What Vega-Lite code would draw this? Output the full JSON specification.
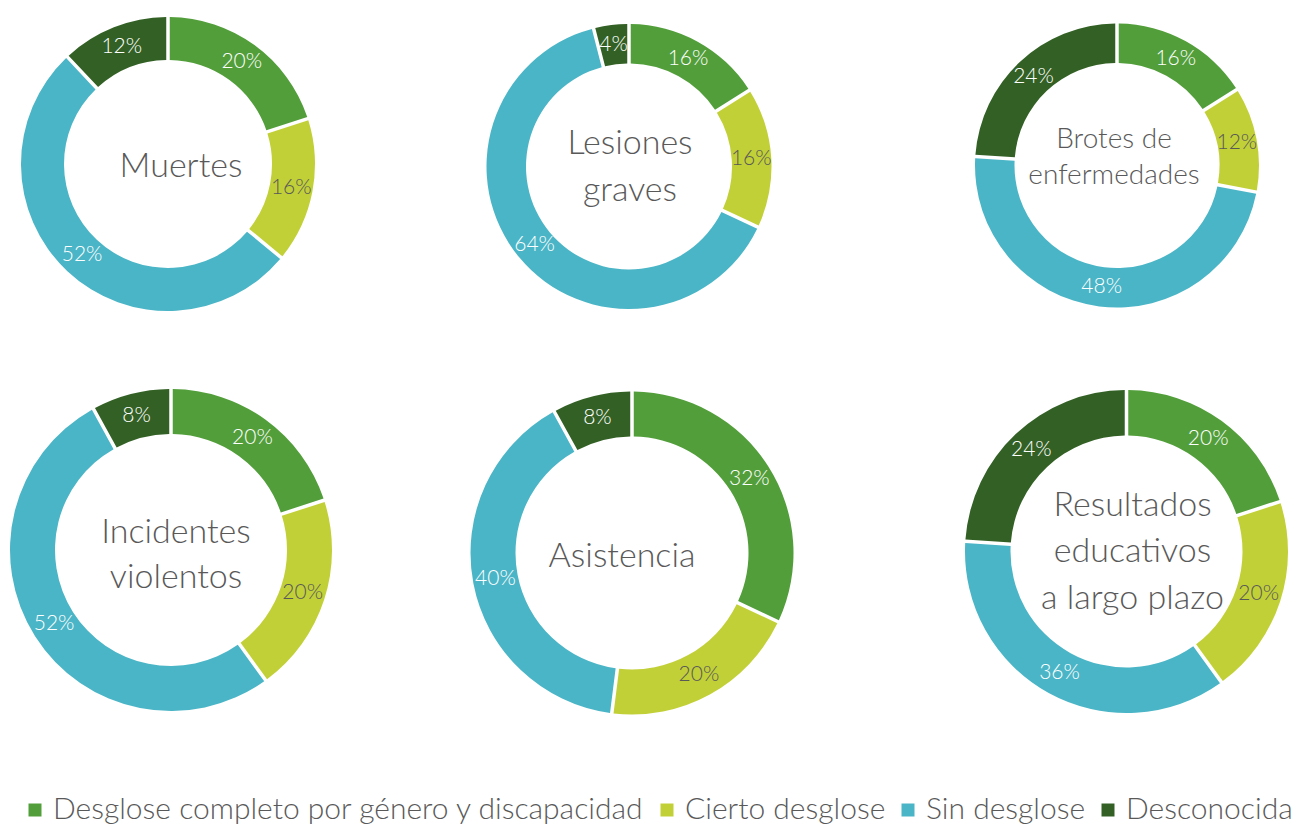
{
  "$schema": "https://vega.github.io/schema/vega-lite/v6.json",
  "padding": {"left": 10, "top": 17, "right": 0, "bottom": 0},
  "autosize": {"type": "pad"},
  "background": "white",
  "columns": 3,
  "align": "none",
  "bounds": "flush",
  "spacing": 0,
  "config": {"view": {"stroke": null}, "font": "Lato"},
  "datasets": {
    "d": [
      {"chart": "Muertes", "cat": "Desglose completo por género y discapacidad", "k": 1, "value": 0.20},
      {"chart": "Muertes", "cat": "Cierto desglose", "k": 2, "value": 0.16},
      {"chart": "Muertes", "cat": "Sin desglose", "k": 3, "value": 0.52},
      {"chart": "Muertes", "cat": "Desconocida", "k": 4, "value": 0.12},
      {"chart": "Lesiones graves", "cat": "Desglose completo por género y discapacidad", "k": 1, "value": 0.16},
      {"chart": "Lesiones graves", "cat": "Cierto desglose", "k": 2, "value": 0.16},
      {"chart": "Lesiones graves", "cat": "Sin desglose", "k": 3, "value": 0.64},
      {"chart": "Lesiones graves", "cat": "Desconocida", "k": 4, "value": 0.04},
      {"chart": "Brotes de enfermedades", "cat": "Desglose completo por género y discapacidad", "k": 1, "value": 0.16},
      {"chart": "Brotes de enfermedades", "cat": "Cierto desglose", "k": 2, "value": 0.12},
      {"chart": "Brotes de enfermedades", "cat": "Sin desglose", "k": 3, "value": 0.48},
      {"chart": "Brotes de enfermedades", "cat": "Desconocida", "k": 4, "value": 0.24},
      {"chart": "Incidentes violentos", "cat": "Desglose completo por género y discapacidad", "k": 1, "value": 0.20},
      {"chart": "Incidentes violentos", "cat": "Cierto desglose", "k": 2, "value": 0.20},
      {"chart": "Incidentes violentos", "cat": "Sin desglose", "k": 3, "value": 0.52},
      {"chart": "Incidentes violentos", "cat": "Desconocida", "k": 4, "value": 0.08},
      {"chart": "Asistencia", "cat": "Desglose completo por género y discapacidad", "k": 1, "value": 0.32},
      {"chart": "Asistencia", "cat": "Cierto desglose", "k": 2, "value": 0.20},
      {"chart": "Asistencia", "cat": "Sin desglose", "k": 3, "value": 0.40},
      {"chart": "Asistencia", "cat": "Desconocida", "k": 4, "value": 0.08},
      {"chart": "Resultados educativos a largo plazo", "cat": "Desglose completo por género y discapacidad", "k": 1, "value": 0.20},
      {"chart": "Resultados educativos a largo plazo", "cat": "Cierto desglose", "k": 2, "value": 0.20},
      {"chart": "Resultados educativos a largo plazo", "cat": "Sin desglose", "k": 3, "value": 0.36},
      {"chart": "Resultados educativos a largo plazo", "cat": "Desconocida", "k": 4, "value": 0.24}
    ]
  },
  "resolve": {"scale": {"color": "shared", "theta": "shared"}, "legend": {"color": "shared"}},
  "concat": [
    {
      "width": 276, "height": 294,
      "data": {"name": "d"},
      "transform": [{"filter": "datum.chart === 'Muertes'"}],
      "layer": [
        {
          "mark": {"type": "arc", "innerRadius": 104, "outerRadius": 147, "padAngle": 0.0195},
          "encoding": {
            "theta": {"field": "value", "type": "quantitative", "stack": true},
            "order": {"field": "k", "type": "quantitative"},
            "color": {"field": "cat", "type": "nominal", "title": null,
              "scale": {"domain": ["Desglose completo por género y discapacidad", "Cierto desglose", "Sin desglose", "Desconocida"], "range": ["#529e3a", "#c2d038", "#4ab5c6", "#336125"]},
              "legend": {"orient": "none", "legendX": -10, "legendY": 778, "direction": "horizontal", "symbolType": "square", "symbolSize": 169, "symbolStrokeWidth": 0, "symbolOpacity": 1, "labelFontSize": 30, "labelFont": "Lato", "labelFontWeight": 300, "labelColor": "#595959", "labelOffset": 3, "columnPadding": 7, "labelLimit": 1000, "padding": 0,
                "encode": {"symbols": {"update": {"fill": {"signal": "datum.value === 'Sin desglose' ? '#7fcbea' : datum.value === 'Cierto desglose' ? '#c6e04a' : datum.value === 'Desconocida' ? '#2c5a1c' : '#3c9e3c'"}}}}}
            }
          }
        },
        {
          "mark": {"type": "text", "radius": 125.5, "fontSize": 21, "font": "Lato", "fontWeight": 300},
          "encoding": {
            "theta": {"field": "value", "type": "quantitative", "stack": true},
            "order": {"field": "k", "type": "quantitative"},
            "detail": {"field": "cat", "type": "nominal"},
            "text": {"field": "value", "type": "quantitative", "format": ".0%"},
            "color": {"condition": {"test": "datum.cat === 'Cierto desglose'", "value": "#595959"}, "value": "#ffffff"}
          }
        },
        {
          "data": {"values": [{"t": 1}]},
          "mark": {"type": "text", "text": "Muertes", "fontSize": 34, "font": "Lato", "fontWeight": 300, "color": "#595959", "dx": 13, "dy": 3}
        }
      ]
    },
    {
      "width": 634, "height": 299,
      "data": {"name": "d"},
      "transform": [{"filter": "datum.chart === 'Lesiones graves'"}],
      "layer": [
        {
          "mark": {"type": "arc", "innerRadius": 103, "outerRadius": 142.5, "padAngle": 0.0199},
          "encoding": {
            "theta": {"field": "value", "type": "quantitative", "stack": true},
            "order": {"field": "k", "type": "quantitative"},
            "color": {"field": "cat", "type": "nominal", "title": null,
              "scale": {"domain": ["Desglose completo por género y discapacidad", "Cierto desglose", "Sin desglose", "Desconocida"], "range": ["#529e3a", "#c2d038", "#4ab5c6", "#336125"]},
              "legend": {"orient": "none", "legendX": -10, "legendY": 778, "direction": "horizontal", "symbolType": "square", "symbolSize": 169, "symbolStrokeWidth": 0, "symbolOpacity": 1, "labelFontSize": 30, "labelFont": "Lato", "labelFontWeight": 300, "labelColor": "#595959", "labelOffset": 3, "columnPadding": 7, "labelLimit": 1000, "padding": 0,
                "encode": {"symbols": {"update": {"fill": {"signal": "datum.value === 'Sin desglose' ? '#7fcbea' : datum.value === 'Cierto desglose' ? '#c6e04a' : datum.value === 'Desconocida' ? '#2c5a1c' : '#3c9e3c'"}}}}}
            }
          }
        },
        {
          "mark": {"type": "text", "radius": 122.5, "fontSize": 21, "font": "Lato", "fontWeight": 300},
          "encoding": {
            "theta": {"field": "value", "type": "quantitative", "stack": true},
            "order": {"field": "k", "type": "quantitative"},
            "detail": {"field": "cat", "type": "nominal"},
            "text": {"field": "value", "type": "quantitative", "format": ".0%"},
            "color": {"condition": {"test": "datum.cat === 'Cierto desglose'", "value": "#595959"}, "value": "#ffffff"}
          }
        },
        {
          "data": {"values": [{"t": 1}]},
          "mark": {"type": "text", "text": ["Lesiones", "graves"], "lineHeight": 47, "fontSize": 34, "font": "Lato", "fontWeight": 300, "color": "#595959", "dx": 1, "dy": -23}
        }
      ]
    },
    {
      "width": 330, "height": 297,
      "data": {"name": "d"},
      "transform": [{"filter": "datum.chart === 'Brotes de enfermedades'"}],
      "layer": [
        {
          "mark": {"type": "arc", "innerRadius": 102.5, "outerRadius": 142, "padAngle": 0.02},
          "encoding": {
            "theta": {"field": "value", "type": "quantitative", "stack": true},
            "order": {"field": "k", "type": "quantitative"},
            "color": {"field": "cat", "type": "nominal", "title": null,
              "scale": {"domain": ["Desglose completo por género y discapacidad", "Cierto desglose", "Sin desglose", "Desconocida"], "range": ["#529e3a", "#c2d038", "#4ab5c6", "#336125"]},
              "legend": {"orient": "none", "legendX": -10, "legendY": 778, "direction": "horizontal", "symbolType": "square", "symbolSize": 169, "symbolStrokeWidth": 0, "symbolOpacity": 1, "labelFontSize": 30, "labelFont": "Lato", "labelFontWeight": 300, "labelColor": "#595959", "labelOffset": 3, "columnPadding": 7, "labelLimit": 1000, "padding": 0,
                "encode": {"symbols": {"update": {"fill": {"signal": "datum.value === 'Sin desglose' ? '#7fcbea' : datum.value === 'Cierto desglose' ? '#c6e04a' : datum.value === 'Desconocida' ? '#2c5a1c' : '#3c9e3c'"}}}}}
            }
          }
        },
        {
          "mark": {"type": "text", "radius": 122, "fontSize": 21, "font": "Lato", "fontWeight": 300},
          "encoding": {
            "theta": {"field": "value", "type": "quantitative", "stack": true},
            "order": {"field": "k", "type": "quantitative"},
            "detail": {"field": "cat", "type": "nominal"},
            "text": {"field": "value", "type": "quantitative", "format": ".0%"},
            "color": {"condition": {"test": "datum.cat === 'Cierto desglose'", "value": "#595959"}, "value": "#ffffff"}
          }
        },
        {
          "data": {"values": [{"t": 1}]},
          "mark": {"type": "text", "text": ["Brotes de", "enfermedades"], "lineHeight": 36, "fontSize": 28, "font": "Lato", "fontWeight": 300, "color": "#595959", "dx": -3, "dy": -26}
        }
      ]
    },
    {
      "width": 282, "height": 468,
      "data": {"name": "d"},
      "transform": [{"filter": "datum.chart === 'Incidentes violentos'"}],
      "layer": [
        {
          "mark": {"type": "arc", "innerRadius": 116, "outerRadius": 161, "padAngle": 0.0177},
          "encoding": {
            "theta": {"field": "value", "type": "quantitative", "stack": true},
            "order": {"field": "k", "type": "quantitative"},
            "color": {"field": "cat", "type": "nominal", "title": null,
              "scale": {"domain": ["Desglose completo por género y discapacidad", "Cierto desglose", "Sin desglose", "Desconocida"], "range": ["#529e3a", "#c2d038", "#4ab5c6", "#336125"]},
              "legend": {"orient": "none", "legendX": -10, "legendY": 778, "direction": "horizontal", "symbolType": "square", "symbolSize": 169, "symbolStrokeWidth": 0, "symbolOpacity": 1, "labelFontSize": 30, "labelFont": "Lato", "labelFontWeight": 300, "labelColor": "#595959", "labelOffset": 3, "columnPadding": 7, "labelLimit": 1000, "padding": 0,
                "encode": {"symbols": {"update": {"fill": {"signal": "datum.value === 'Sin desglose' ? '#7fcbea' : datum.value === 'Cierto desglose' ? '#c6e04a' : datum.value === 'Desconocida' ? '#2c5a1c' : '#3c9e3c'"}}}}}
            }
          }
        },
        {
          "mark": {"type": "text", "radius": 138.5, "fontSize": 21, "font": "Lato", "fontWeight": 300},
          "encoding": {
            "theta": {"field": "value", "type": "quantitative", "stack": true},
            "order": {"field": "k", "type": "quantitative"},
            "detail": {"field": "cat", "type": "nominal"},
            "text": {"field": "value", "type": "quantitative", "format": ".0%"},
            "color": {"condition": {"test": "datum.cat === 'Cierto desglose'", "value": "#595959"}, "value": "#ffffff"}
          }
        },
        {
          "data": {"values": [{"t": 1}]},
          "mark": {"type": "text", "text": ["Incidentes", "violentos"], "lineHeight": 45, "fontSize": 34, "font": "Lato", "fontWeight": 300, "color": "#595959", "dx": 5, "dy": -17.5}
        }
      ]
    },
    {
      "width": 640, "height": 474,
      "data": {"name": "d"},
      "transform": [{"filter": "datum.chart === 'Asistencia'"}],
      "layer": [
        {
          "mark": {"type": "arc", "innerRadius": 116.5, "outerRadius": 161.5, "padAngle": 0.0177},
          "encoding": {
            "theta": {"field": "value", "type": "quantitative", "stack": true},
            "order": {"field": "k", "type": "quantitative"},
            "color": {"field": "cat", "type": "nominal", "title": null,
              "scale": {"domain": ["Desglose completo por género y discapacidad", "Cierto desglose", "Sin desglose", "Desconocida"], "range": ["#529e3a", "#c2d038", "#4ab5c6", "#336125"]},
              "legend": {"orient": "none", "legendX": -10, "legendY": 778, "direction": "horizontal", "symbolType": "square", "symbolSize": 169, "symbolStrokeWidth": 0, "symbolOpacity": 1, "labelFontSize": 30, "labelFont": "Lato", "labelFontWeight": 300, "labelColor": "#595959", "labelOffset": 3, "columnPadding": 7, "labelLimit": 1000, "padding": 0,
                "encode": {"symbols": {"update": {"fill": {"signal": "datum.value === 'Sin desglose' ? '#7fcbea' : datum.value === 'Cierto desglose' ? '#c6e04a' : datum.value === 'Desconocida' ? '#2c5a1c' : '#3c9e3c'"}}}}}
            }
          }
        },
        {
          "mark": {"type": "text", "radius": 139, "fontSize": 21, "font": "Lato", "fontWeight": 300},
          "encoding": {
            "theta": {"field": "value", "type": "quantitative", "stack": true},
            "order": {"field": "k", "type": "quantitative"},
            "detail": {"field": "cat", "type": "nominal"},
            "text": {"field": "value", "type": "quantitative", "format": ".0%"},
            "color": {"condition": {"test": "datum.cat === 'Cierto desglose'", "value": "#595959"}, "value": "#ffffff"}
          }
        },
        {
          "data": {"values": [{"t": 1}]},
          "mark": {"type": "text", "text": "Asistencia", "fontSize": 34, "font": "Lato", "fontWeight": 300, "color": "#595959", "dx": -10, "dy": 4}
        }
      ]
    },
    {
      "width": 349, "height": 471,
      "data": {"name": "d"},
      "transform": [{"filter": "datum.chart === 'Resultados educativos a largo plazo'"}],
      "layer": [
        {
          "mark": {"type": "arc", "innerRadius": 116, "outerRadius": 161.5, "padAngle": 0.0177},
          "encoding": {
            "theta": {"field": "value", "type": "quantitative", "stack": true},
            "order": {"field": "k", "type": "quantitative"},
            "color": {"field": "cat", "type": "nominal", "title": null,
              "scale": {"domain": ["Desglose completo por género y discapacidad", "Cierto desglose", "Sin desglose", "Desconocida"], "range": ["#529e3a", "#c2d038", "#4ab5c6", "#336125"]},
              "legend": {"orient": "none", "legendX": -10, "legendY": 778, "direction": "horizontal", "symbolType": "square", "symbolSize": 169, "symbolStrokeWidth": 0, "symbolOpacity": 1, "labelFontSize": 30, "labelFont": "Lato", "labelFontWeight": 300, "labelColor": "#595959", "labelOffset": 3, "columnPadding": 7, "labelLimit": 1000, "padding": 0,
                "encode": {"symbols": {"update": {"fill": {"signal": "datum.value === 'Sin desglose' ? '#7fcbea' : datum.value === 'Cierto desglose' ? '#c6e04a' : datum.value === 'Desconocida' ? '#2c5a1c' : '#3c9e3c'"}}}}}
            }
          }
        },
        {
          "mark": {"type": "text", "radius": 139, "fontSize": 21, "font": "Lato", "fontWeight": 300},
          "encoding": {
            "theta": {"field": "value", "type": "quantitative", "stack": true},
            "order": {"field": "k", "type": "quantitative"},
            "detail": {"field": "cat", "type": "nominal"},
            "text": {"field": "value", "type": "quantitative", "format": ".0%"},
            "color": {"condition": {"test": "datum.cat === 'Cierto desglose'", "value": "#595959"}, "value": "#ffffff"}
          }
        },
        {
          "data": {"values": [{"t": 1}]},
          "mark": {"type": "text", "text": ["Resultados", "educativos", "a largo plazo"], "lineHeight": 46.5, "fontSize": 34, "font": "Lato", "fontWeight": 300, "color": "#595959", "dx": 6, "dy": -46}
        }
      ]
    }
  ]
}
